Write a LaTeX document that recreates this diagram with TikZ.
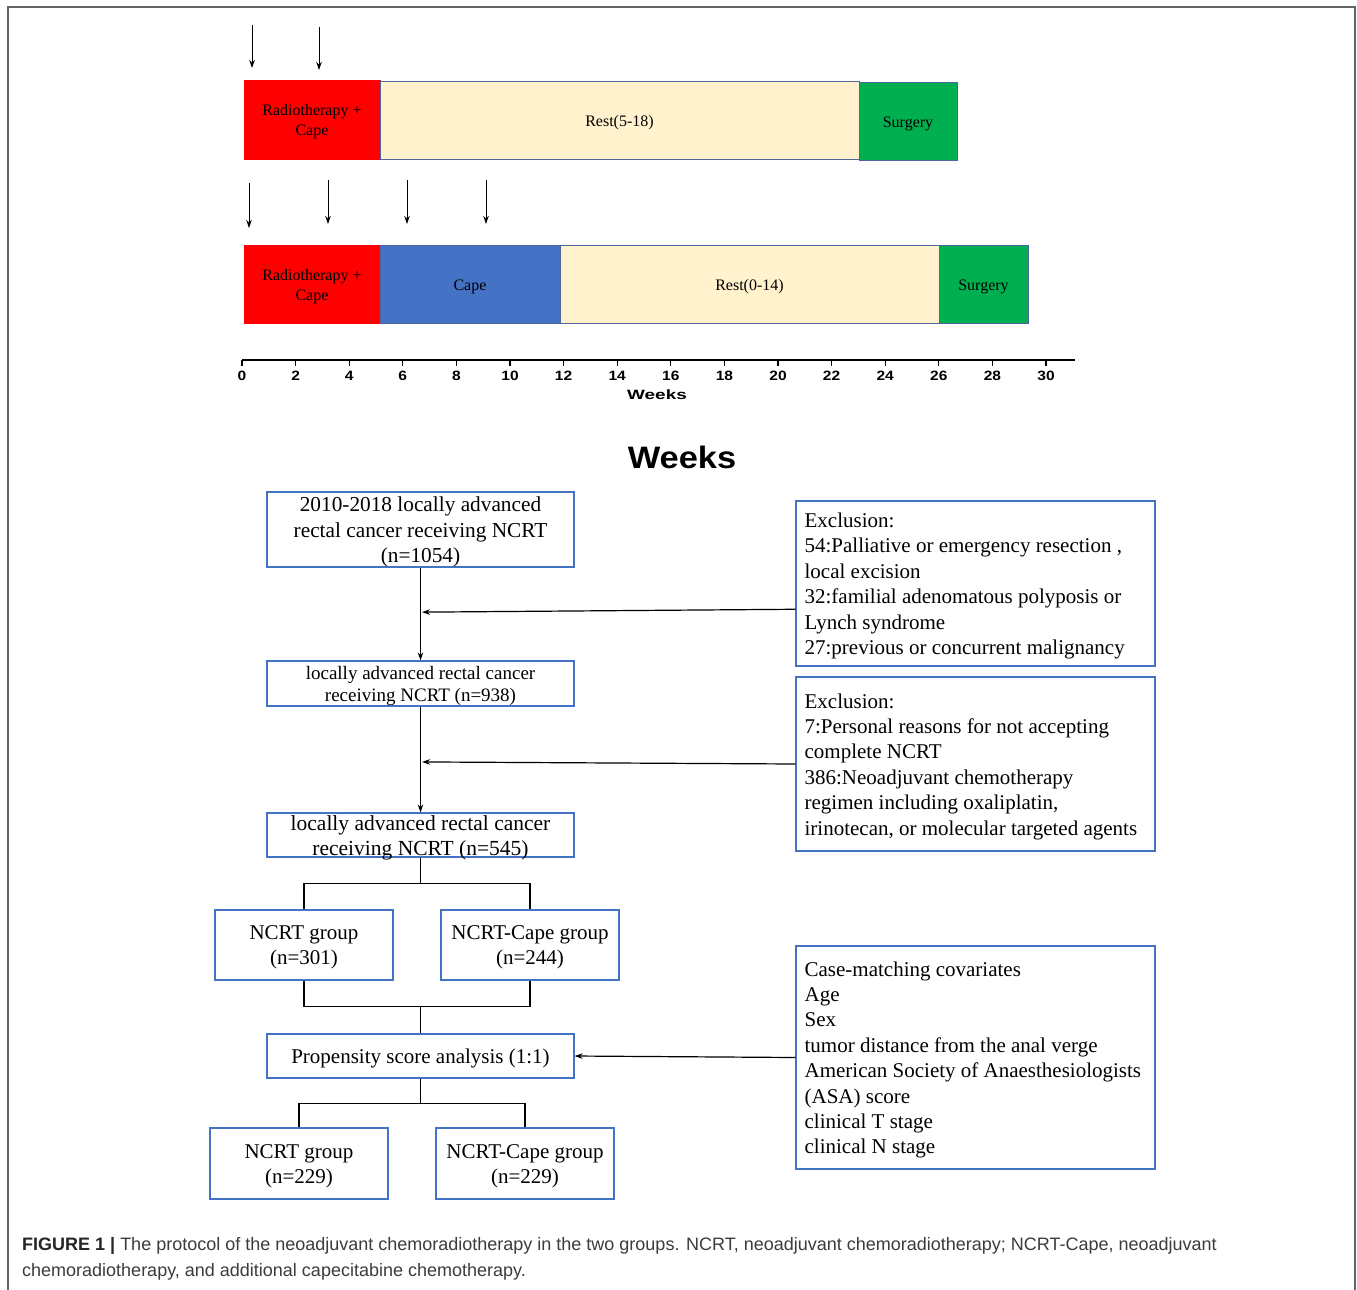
\documentclass[tikz,border=0pt]{standalone}
\usepackage{fontspec}
\setmainfont{Liberation Serif}
\setsansfont{Liberation Sans}
\usetikzlibrary{arrows.meta,calc}
\definecolor{bbox}{RGB}{68,114,196}
\definecolor{baredge}{RGB}{80,100,160}
\definecolor{restc}{RGB}{255,242,204}
\definecolor{surg}{RGB}{0,176,80}
\definecolor{capec}{RGB}{68,114,196}
\definecolor{framec}{RGB}{100,100,100}
\definecolor{captxt}{RGB}{60,60,60}
\begin{document}
\begin{tikzpicture}[x=1pt,y=-1pt,
  bar/.style={rectangle, draw=baredge, line width=0.8pt, inner sep=0pt},
  bartext/.style={align=center, inner sep=0pt, yshift=-2.5pt, font=\fontsize{16}{20}\selectfont},
  tarrow/.style={line width=1pt, -{Stealth[length=8pt,width=5.5pt]}},
  axlab/.style={font=\sffamily\bfseries\fontsize{13.5}{16}\selectfont, inner sep=0pt},
  fbox/.style={rectangle, draw=bbox, line width=1.2pt, inner sep=0pt},
  ftext/.style={align=center, inner sep=0pt, yshift=-2.5pt, font=\fontsize{20}{25.3}\selectfont},
  ltext/.style={align=left, inner sep=0pt, anchor=west, yshift=-2.5pt, font=\fontsize{21}{25.4}\selectfont},
  fline/.style={line width=1.2pt},
  farrow/.style={line width=1.2pt, -{Stealth[length=8pt,width=5.5pt]}},
  captext/.style={anchor=west, inner sep=0pt, text=captxt, font=\sffamily\fontsize{18}{21}\selectfont}
]
\useasboundingbox (0,0) rectangle (1357,1290);
\fill[white] (0,0) rectangle (1357,1290);
\draw[framec, line width=1.5pt] (8,1290) -- (8,7) -- (1355,7) -- (1355,1290);

% ---- timeline row 1
\node[bar, fill=red, draw=red, minimum width=136pt, minimum height=79pt] (r1) at (312,119.5) {};
\node[bartext] (r1t) at (r1.center) {Radiotherapy +\\Cape};
\node[bar, fill=restc, minimum width=479pt, minimum height=78pt] (rest1) at (619.5,120) {};
\node[bartext] (rest1t) at (rest1.center) {Rest(5-18)};
\node[bar, fill=surg, minimum width=98pt, minimum height=78pt] (s1) at (908,121) {};
\node[bartext] (s1t) at (s1.center) {Surgery};
% ---- timeline row 2
\node[bar, fill=red, draw=red, minimum width=136pt, minimum height=78pt] (r2) at (312,284) {};
\node[bartext] (r2t) at (r2.center) {Radiotherapy +\\Cape};
\node[bar, fill=capec, minimum width=180pt, minimum height=78pt] (c2) at (470,284) {};
\node[bartext] (c2t) at (c2.center) {Cape};
\node[bar, fill=restc, minimum width=379pt, minimum height=78pt] (rest2) at (749.5,284) {};
\node[bartext] (rest2t) at (rest2.center) {Rest(0-14)};
\node[bar, fill=surg, minimum width=89pt, minimum height=78pt] (s2) at (983.5,284) {};
\node[bartext] (s2t) at (s2.center) {Surgery};

% ---- dose arrows
\draw[tarrow] (252,25) -- (252,68);
\draw[tarrow] (319,27) -- (319,70);
\draw[tarrow] (249,183) -- (249,228);
\draw[tarrow] (328,180) -- (328,224);
\draw[tarrow] (407,180) -- (407,224);
\draw[tarrow] (486,180) -- (486,224);

% ---- axis
\draw[line width=1.6pt] (242,360) -- (1075,360);
\foreach \i [evaluate=\i as \w using int(2*\i)] in {0,...,15} {
  \draw[line width=1.2pt] ({242+53.6*\i},360) -- ++(0,6);
  \node[axlab] (t\i) at ({242+53.6*\i},376) {\scalebox{1.15}[1]{\w}};
}
\node[axlab] (wk) at (657,395) {\scalebox{1.4}[1]{Weeks}};
\node[inner sep=0pt, font=\sffamily\bfseries\fontsize{31}{36}\selectfont] (wkbig) at (682,457) {\scalebox{1.11}[1]{Weeks}};

% ---- flowchart boxes
\node[fbox, minimum width=307pt, minimum height=75pt] (b1) at (420.5,529.5) {};
\node[ftext, font=\fontsize{21.3}{25.3}\selectfont] (b1t) at (b1.center) {2010-2018 locally advanced\\rectal cancer receiving NCRT\\(n=1054)};
\node[fbox, minimum width=307pt, minimum height=45pt] (b2) at (420.5,683.5) {};
\node[ftext, font=\fontsize{19}{22}\selectfont] (b2t) at (b2.center) {locally advanced rectal cancer\\receiving NCRT (n=938)};
\node[fbox, minimum width=307pt, minimum height=44pt] (b3) at (420.5,835) {};
\node[ftext, font=\fontsize{21.5}{25}\selectfont] (b3t) at (b3.center) {locally advanced rectal cancer\\receiving NCRT (n=545)};

\node[fbox, minimum width=178pt, minimum height=70pt] (g1) at (304,945) {};
\node[ftext, font=\fontsize{21}{25}\selectfont] (g1t) at (g1.center) {NCRT group\\(n=301)};
\node[fbox, minimum width=178pt, minimum height=70pt] (g2) at (530,945) {};
\node[ftext, font=\fontsize{21}{25}\selectfont] (g2t) at (g2.center) {NCRT-Cape group\\(n=244)};

\node[fbox, minimum width=307pt, minimum height=44pt] (prop) at (420.5,1056) {};
\node[ftext, font=\fontsize{21}{25}\selectfont] (propt) at (prop.center) {Propensity score analysis (1:1)};

\node[fbox, minimum width=178pt, minimum height=71pt] (h1) at (299,1163.5) {};
\node[ftext, font=\fontsize{21}{25}\selectfont] (h1t) at (h1.center) {NCRT group\\(n=229)};
\node[fbox, minimum width=178pt, minimum height=71pt] (h2) at (525,1163.5) {};
\node[ftext, font=\fontsize{21}{25}\selectfont] (h2t) at (h2.center) {NCRT-Cape group\\(n=229)};

\node[fbox, minimum width=359pt, minimum height=165pt] (ex1) at (975.5,583.5) {};
\node[ltext] (ex1t) at ([xshift=9pt]ex1.west) {Exclusion:\\54:Palliative or emergency resection ,\\local excision\\32:familial adenomatous polyposis or\\Lynch syndrome\\27:previous or concurrent malignancy};
\node[fbox, minimum width=359pt, minimum height=174pt] (ex2) at (975.5,764) {};
\node[ltext] (ex2t) at ([xshift=9pt]ex2.west) {Exclusion:\\7:Personal reasons for not accepting\\complete NCRT\\386:Neoadjuvant chemotherapy\\regimen including oxaliplatin,\\irinotecan, or molecular targeted agents};
\node[fbox, minimum width=359pt, minimum height=223pt] (cov) at (975.5,1057.5) {};
\node[ltext] (covt) at ([xshift=9pt]cov.west) {Case-matching covariates\\Age\\Sex\\tumor distance from the anal verge\\American Society of Anaesthesiologists\\(ASA) score\\clinical T stage\\clinical N stage};

% ---- connectors
\draw[farrow] (b1.south) -- (b2.north);
\draw[farrow] (b2.south) -- (b3.north);
\coordinate (j1) at ($(b1.south)!0.48!(b2.north)$);
\coordinate (e1) at ($(ex1.south west)!0.345!(ex1.north west)$);
\draw[farrow] (e1) -- ([xshift=1.5pt]j1);
\coordinate (j2) at ($(b2.south)!0.523!(b3.north)$);
\draw[farrow] (ex2.west) -- ([xshift=1.5pt]j2);
\draw[farrow] (cov.west) -- (prop.east);

\coordinate (k1) at ($(b3.south)+(0,26)$);
\draw[fline] (b3.south) -- (k1);
\draw[fline] (g1.north) |- (k1) -| (g2.north);
\coordinate (k2) at ($(prop.north)+(0,-27)$);
\draw[fline] (g1.south) |- (k2) -| (g2.south);
\draw[fline] (k2) -- (prop.north);
\coordinate (k3) at ($(prop.south)+(0,25)$);
\draw[fline] (prop.south) -- (k3);
\draw[fline] (h1.north) |- (k3) -| (h2.north);

% ---- caption
\node[captext] (cap1) at (22,1246) {\textcolor{black!85}{\bfseries FIGURE 1 |} The protocol of the neoadjuvant chemoradiotherapy in the two groups. NCRT, neoadjuvant chemoradiotherapy; NCRT-Cape, neoadjuvant};
\node[captext] (cap2) at (22,1272) {chemoradiotherapy, and additional capecitabine chemotherapy.};
\end{tikzpicture}
\end{document}
